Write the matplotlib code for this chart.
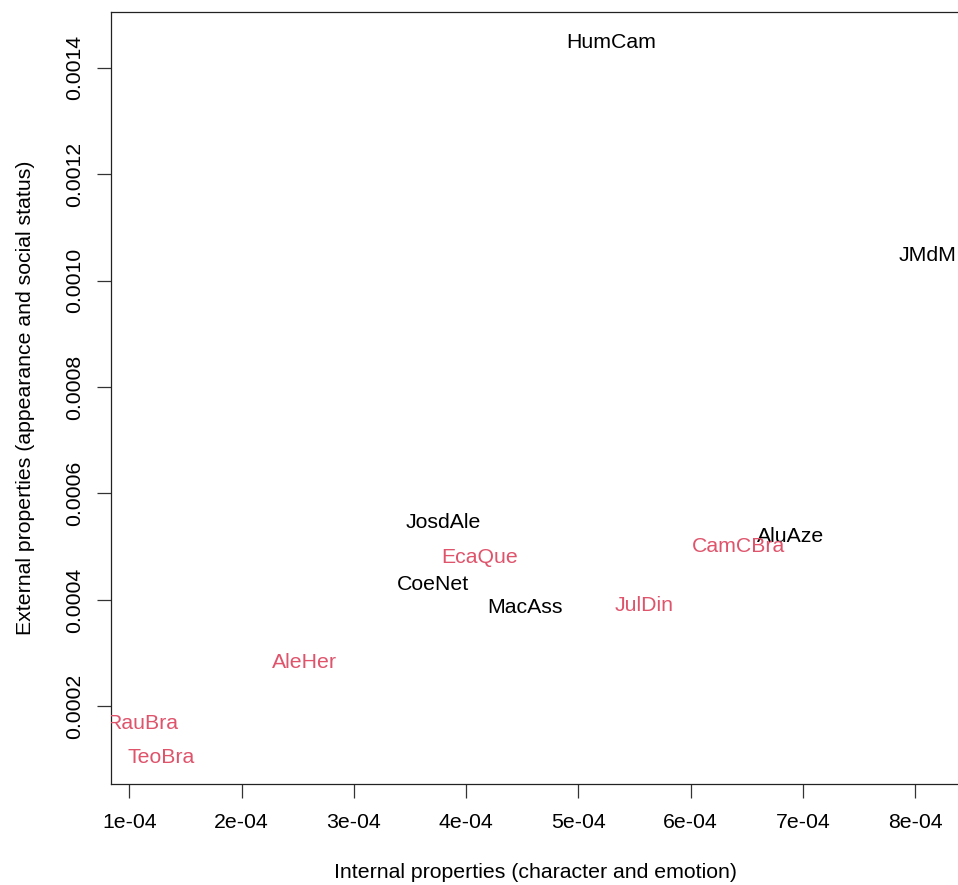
import matplotlib
matplotlib.use("Agg")
import matplotlib.pyplot as plt

plt.rcParams['font.family'] = ['Liberation Sans', 'DejaVu Sans']

# Authors and their coordinates in the internal / external property space
authors = ["HumCam", "JMdM", "JosdAle", "EcaQue", "CoeNet", "MacAss",
           "AluAze", "CamCBra", "JulDin", "AleHer", "RauBra", "TeoBra"]
internal = [5.295e-4, 8.111e-4, 3.800e-4, 4.116e-4, 3.705e-4, 4.527e-4,
            6.893e-4, 6.429e-4, 5.589e-4, 2.5625e-4, 1.116e-4, 1.286e-4]
external = [1.4508e-3, 1.0508e-3, 5.49e-4, 4.833e-4, 4.325e-4, 3.887e-4,
            5.229e-4, 5.04e-4, 3.925e-4, 2.865e-4, 1.718e-4, 1.078e-4]
group = [1, 1, 1, 2, 1, 1, 1, 2, 2, 2, 2, 2]

xticks = [1e-4, 2e-4, 3e-4, 4e-4, 5e-4, 6e-4, 7e-4, 8e-4]
xticklabels = ["1e-04", "2e-04", "3e-04", "4e-04", "5e-04", "6e-04", "7e-04", "8e-04"]
yticks = [2e-4, 4e-4, 6e-4, 8e-4, 1.0e-3, 1.2e-3, 1.4e-3]
yticklabels = ["0.0002", "0.0004", "0.0006", "0.0008", "0.0010", "0.0012", "0.0014"]

colors = {1: "black", 2: "#DF536B"}
FS = 15.3

fig = plt.figure(figsize=(9.58, 8.85), dpi=100)
ax = fig.add_axes([111 / 958, 1 - 784 / 885, 848 / 958, 772 / 885])

# R-style 4% padding around the data range
xr = max(internal) - min(internal)
yr = max(external) - min(external)
ax.set_xlim(min(internal) - 0.04 * xr, max(internal) + 0.04 * xr)
ax.set_ylim(min(external) - 0.04 * yr, max(external) + 0.04 * yr)

for name, x, y, g in zip(authors, internal, external, group):
    ax.text(x, y, name, color=colors[g], fontsize=FS, ha="center",
            va="center_baseline", clip_on=True)

ax.set_xticks(xticks)
ax.set_xticklabels(xticklabels)
ax.set_yticks(yticks)
ax.set_yticklabels(yticklabels, rotation=90, va="center")
ax.tick_params(axis="both", length=10, width=0.9, color="#333333",
               labelsize=FS)
ax.tick_params(axis="x", pad=11)
ax.tick_params(axis="y", pad=9)
for s in ax.spines.values():
    s.set_linewidth(0.9)
    s.set_color("#222222")

ax.set_xlabel("Internal properties (character and emotion)", fontsize=FS, labelpad=22)
ax.set_ylabel("External properties (appearance and social status)", fontsize=FS, labelpad=22)

fig.savefig("out.png", dpi=100)
